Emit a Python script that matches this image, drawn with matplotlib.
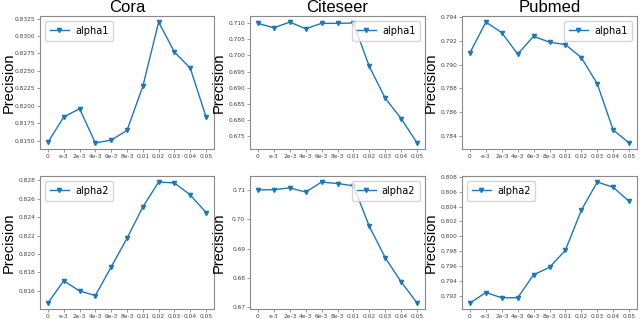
import matplotlib
matplotlib.use("Agg")
import matplotlib.pyplot as plt
from matplotlib.ticker import MultipleLocator

xlabels = ["0", "e-3", "2e-3", "4e-3", "6e-3", "8e-3", "0.01", "0.02", "0.03", "0.04", "0.05"]

cora_a1 = [0.8148, 0.8184, 0.8196, 0.8147, 0.8151, 0.8165, 0.8228, 0.8320, 0.8277, 0.8254, 0.8184]
citeseer_a1 = [0.7100, 0.7086, 0.7104, 0.7083, 0.7100, 0.7100, 0.7101, 0.6966, 0.6867, 0.6804, 0.6728]
pubmed_a1 = [0.7910, 0.7936, 0.7927, 0.7909, 0.7924, 0.7919, 0.7917, 0.7906, 0.7884, 0.7845, 0.7834]

cora_a2 = [0.8147, 0.8171, 0.8160, 0.8155, 0.8186, 0.8217, 0.8251, 0.8278, 0.8277, 0.8264, 0.8245]
citeseer_a2 = [0.7100, 0.7101, 0.7107, 0.7093, 0.7127, 0.7122, 0.7114, 0.6976, 0.6869, 0.6787, 0.6715]
pubmed_a2 = [0.7910, 0.7924, 0.7917, 0.7917, 0.7948, 0.7958, 0.7981, 0.8035, 0.8073, 0.8066, 0.8047]

titles = ["Cora", "Citeseer", "Pubmed"]
rows = [
    ("alpha1", [cora_a1, citeseer_a1, pubmed_a1], [0.0025, 0.005, 0.002]),
    ("alpha2", [cora_a2, citeseer_a2, pubmed_a2], [0.002, 0.01, 0.002]),
]
legend_loc = [["upper left", "upper right", "upper right"],
              ["upper left", "upper right", "upper left"]]

W, H = 640, 319
lefts = [40, 250, 462]
widths = [174, 175, 175]
tops = [16, 176]
height = 133

fig = plt.figure(figsize=(6.4, 3.19), dpi=100)
spine_col = "#8a8a8a"

for r, (name, series, steps) in enumerate(rows):
    for c in range(3):
        ax = fig.add_axes([lefts[c] / W, 1 - (tops[r] + height) / H, widths[c] / W, height / H])
        ax.plot(range(len(xlabels)), series[c], color="#1f77b4", marker="v",
                markersize=3, linewidth=1, label=name)
        ax.set_xticks(range(len(xlabels)))
        ax.set_xticklabels(xlabels)
        ax.yaxis.set_major_locator(MultipleLocator(steps[c]))
        ax.tick_params(labelsize=4.2, length=2, width=0.6, color=spine_col, pad=1.5,
                       labelcolor="#444444")
        for s in ax.spines.values():
            s.set_color(spine_col)
            s.set_linewidth(0.8)
        ax.set_ylabel("Precision", fontsize=10.5, family="Liberation Sans")
        # place label at a fixed pixel distance left of the axes
        ax.yaxis.set_label_coords(-24 / widths[c], 0.5)
        if r == 0:
            ax.set_title(titles[c], fontsize=12, family="Liberation Sans", pad=3)
        ax.legend(loc=legend_loc[r][c], fontsize=7, handlelength=2, borderpad=0.5,
                  labelspacing=0.2, handletextpad=0.6)

fig.savefig("out.png", dpi=100)
